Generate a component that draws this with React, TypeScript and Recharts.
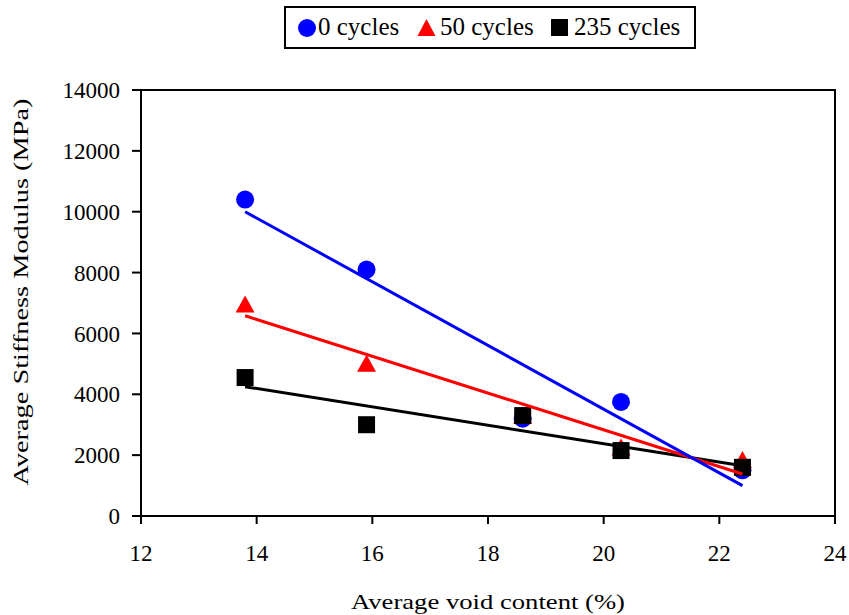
import { ScatterChart, Scatter, XAxis, YAxis, ReferenceArea } from 'recharts';

const VOID_CONTENT = [13.8, 15.9, 18.6, 20.3, 22.4];
const MODULUS_0 = [10400, 8100, 3200, 3750, 1500];
const MODULUS_50 = [6950, 5000, 3300, 2250, 1840];
const MODULUS_235 = [4550, 3000, 3300, 2150, 1600];

// trendline end points
const TREND_X = [13.8, 22.4];
const TREND_0 = [10000, 1000];
const TREND_50 = [6580, 1380];
const TREND_235 = [4250, 1650];

const X_TICKS = [12, 14, 16, 18, 20, 22, 24];
const Y_TICKS = [0, 2000, 4000, 6000, 8000, 10000, 12000, 14000];

const X_TITLE = 'Average void content (%)';
const Y_TITLE = 'Average Stiffness Modulus (MPa)';

const FONT = '"Liberation Serif", "Times New Roman", serif';

const toPoints = (xs: number[], ys: number[]) => xs.map((x, i) => ({ x, y: ys[i] }));

const circleShape = (p: any) => <circle cx={p.cx} cy={p.cy} r={9} fill="#0000FF" />;
const triangleShape = (p: any) => (
  <polygon
    points={`${p.cx},${p.cy - 9} ${p.cx + 9.5},${p.cy + 8} ${p.cx - 9.5},${p.cy + 8}`}
    fill="#FF0000"
  />
);
const squareShape = (p: any) => <rect x={p.cx - 8.5} y={p.cy - 8.5} width={17} height={17} fill="#000000" />;
const noShape = () => <g />;

// the original titles are stretched along their length, so pin the text length
const xTitle = ({ viewBox }: any) => {
  const cx = viewBox.x + viewBox.width / 2;
  const by = viewBox.y + viewBox.height - 6;
  return (
    <text x={cx} y={by} textAnchor="middle" fontFamily={FONT} fontSize={22} fill="#000"
      textLength={274} lengthAdjust="spacingAndGlyphs">
      {X_TITLE}
    </text>
  );
};

const yTitle = ({ viewBox }: any) => {
  const bx = viewBox.x + 28;
  const cy = viewBox.y + viewBox.height / 2 - 11;
  return (
    <text x={bx} y={cy} transform={`rotate(-90 ${bx} ${cy})`} textAnchor="middle" fontFamily={FONT}
      fontSize={22} fill="#000" textLength={387} lengthAdjust="spacingAndGlyphs">
      {Y_TITLE}
    </text>
  );
};

function LegendBox() {
  const text = { position: 'absolute', top: 4, lineHeight: '30px', whiteSpace: 'nowrap' } as const;
  return (
    <div
      style={{
        position: 'absolute',
        left: 284,
        top: 6,
        width: 412,
        height: 43,
        border: '2px solid #000',
        background: '#fff',
        boxSizing: 'border-box',
        fontFamily: FONT,
        fontSize: 25,
        color: '#000',
      }}
    >
      <svg width={408} height={39} style={{ position: 'absolute', left: 0, top: 0 }}>
        <circle cx={21} cy={20} r={9} fill="#0000FF" />
        <polygon points="140.5,11 149.5,28 131.5,28" fill="#FF0000" />
        <rect x={265} y={11} width={17} height={17} fill="#000" />
      </svg>
      <span style={{ ...text, left: 32 }}>0 cycles</span>
      <span style={{ ...text, left: 154 }}>50 cycles</span>
      <span style={{ ...text, left: 288 }}>235 cycles</span>
    </div>
  );
}

export default function App() {
  const tickStyle = { fontSize: 23, fill: '#000', fontFamily: FONT };
  return (
    <div style={{ position: 'absolute', left: 0, top: 0, width: 849, height: 615, background: '#fff' }}>
      <ScatterChart width={849} height={615} margin={{ top: 90, right: 14, bottom: 0, left: 0 }}>
        <XAxis
          type="number"
          dataKey="x"
          domain={[12, 24]}
          ticks={X_TICKS}
          allowDataOverflow
          height={99}
          axisLine={{ stroke: '#000', strokeWidth: 2 }}
          tickLine={{ stroke: '#000', strokeWidth: 2 }}
          tickSize={8}
          tickMargin={21}
          tick={tickStyle}
          label={{ content: xTitle }}
        />
        <YAxis
          type="number"
          dataKey="y"
          domain={[0, 14000]}
          ticks={Y_TICKS}
          allowDataOverflow
          width={141}
          axisLine={{ stroke: '#000', strokeWidth: 2 }}
          tickLine={{ stroke: '#000', strokeWidth: 2 }}
          tickSize={9}
          tickMargin={12}
          tick={tickStyle}
          label={{ content: yTitle }}
        />
        <ReferenceArea x1={12} x2={24} y1={0} y2={14000} fill="none" stroke="#000" strokeWidth={2} />
        <Scatter data={toPoints(VOID_CONTENT, MODULUS_0)} shape={circleShape} isAnimationActive={false} />
        <Scatter data={toPoints(VOID_CONTENT, MODULUS_50)} shape={triangleShape} isAnimationActive={false} />
        <Scatter data={toPoints(VOID_CONTENT, MODULUS_235)} shape={squareShape} isAnimationActive={false} />
        <Scatter
          data={toPoints(TREND_X, TREND_235)}
          shape={noShape}
          line={{ stroke: '#000', strokeWidth: 3 }}
          lineType="joint"
          isAnimationActive={false}
        />
        <Scatter
          data={toPoints(TREND_X, TREND_50)}
          shape={noShape}
          line={{ stroke: '#FF0000', strokeWidth: 3 }}
          lineType="joint"
          isAnimationActive={false}
        />
        <Scatter
          data={toPoints(TREND_X, TREND_0)}
          shape={noShape}
          line={{ stroke: '#0000FF', strokeWidth: 3 }}
          lineType="joint"
          isAnimationActive={false}
        />
      </ScatterChart>
      <LegendBox />
    </div>
  );
}
